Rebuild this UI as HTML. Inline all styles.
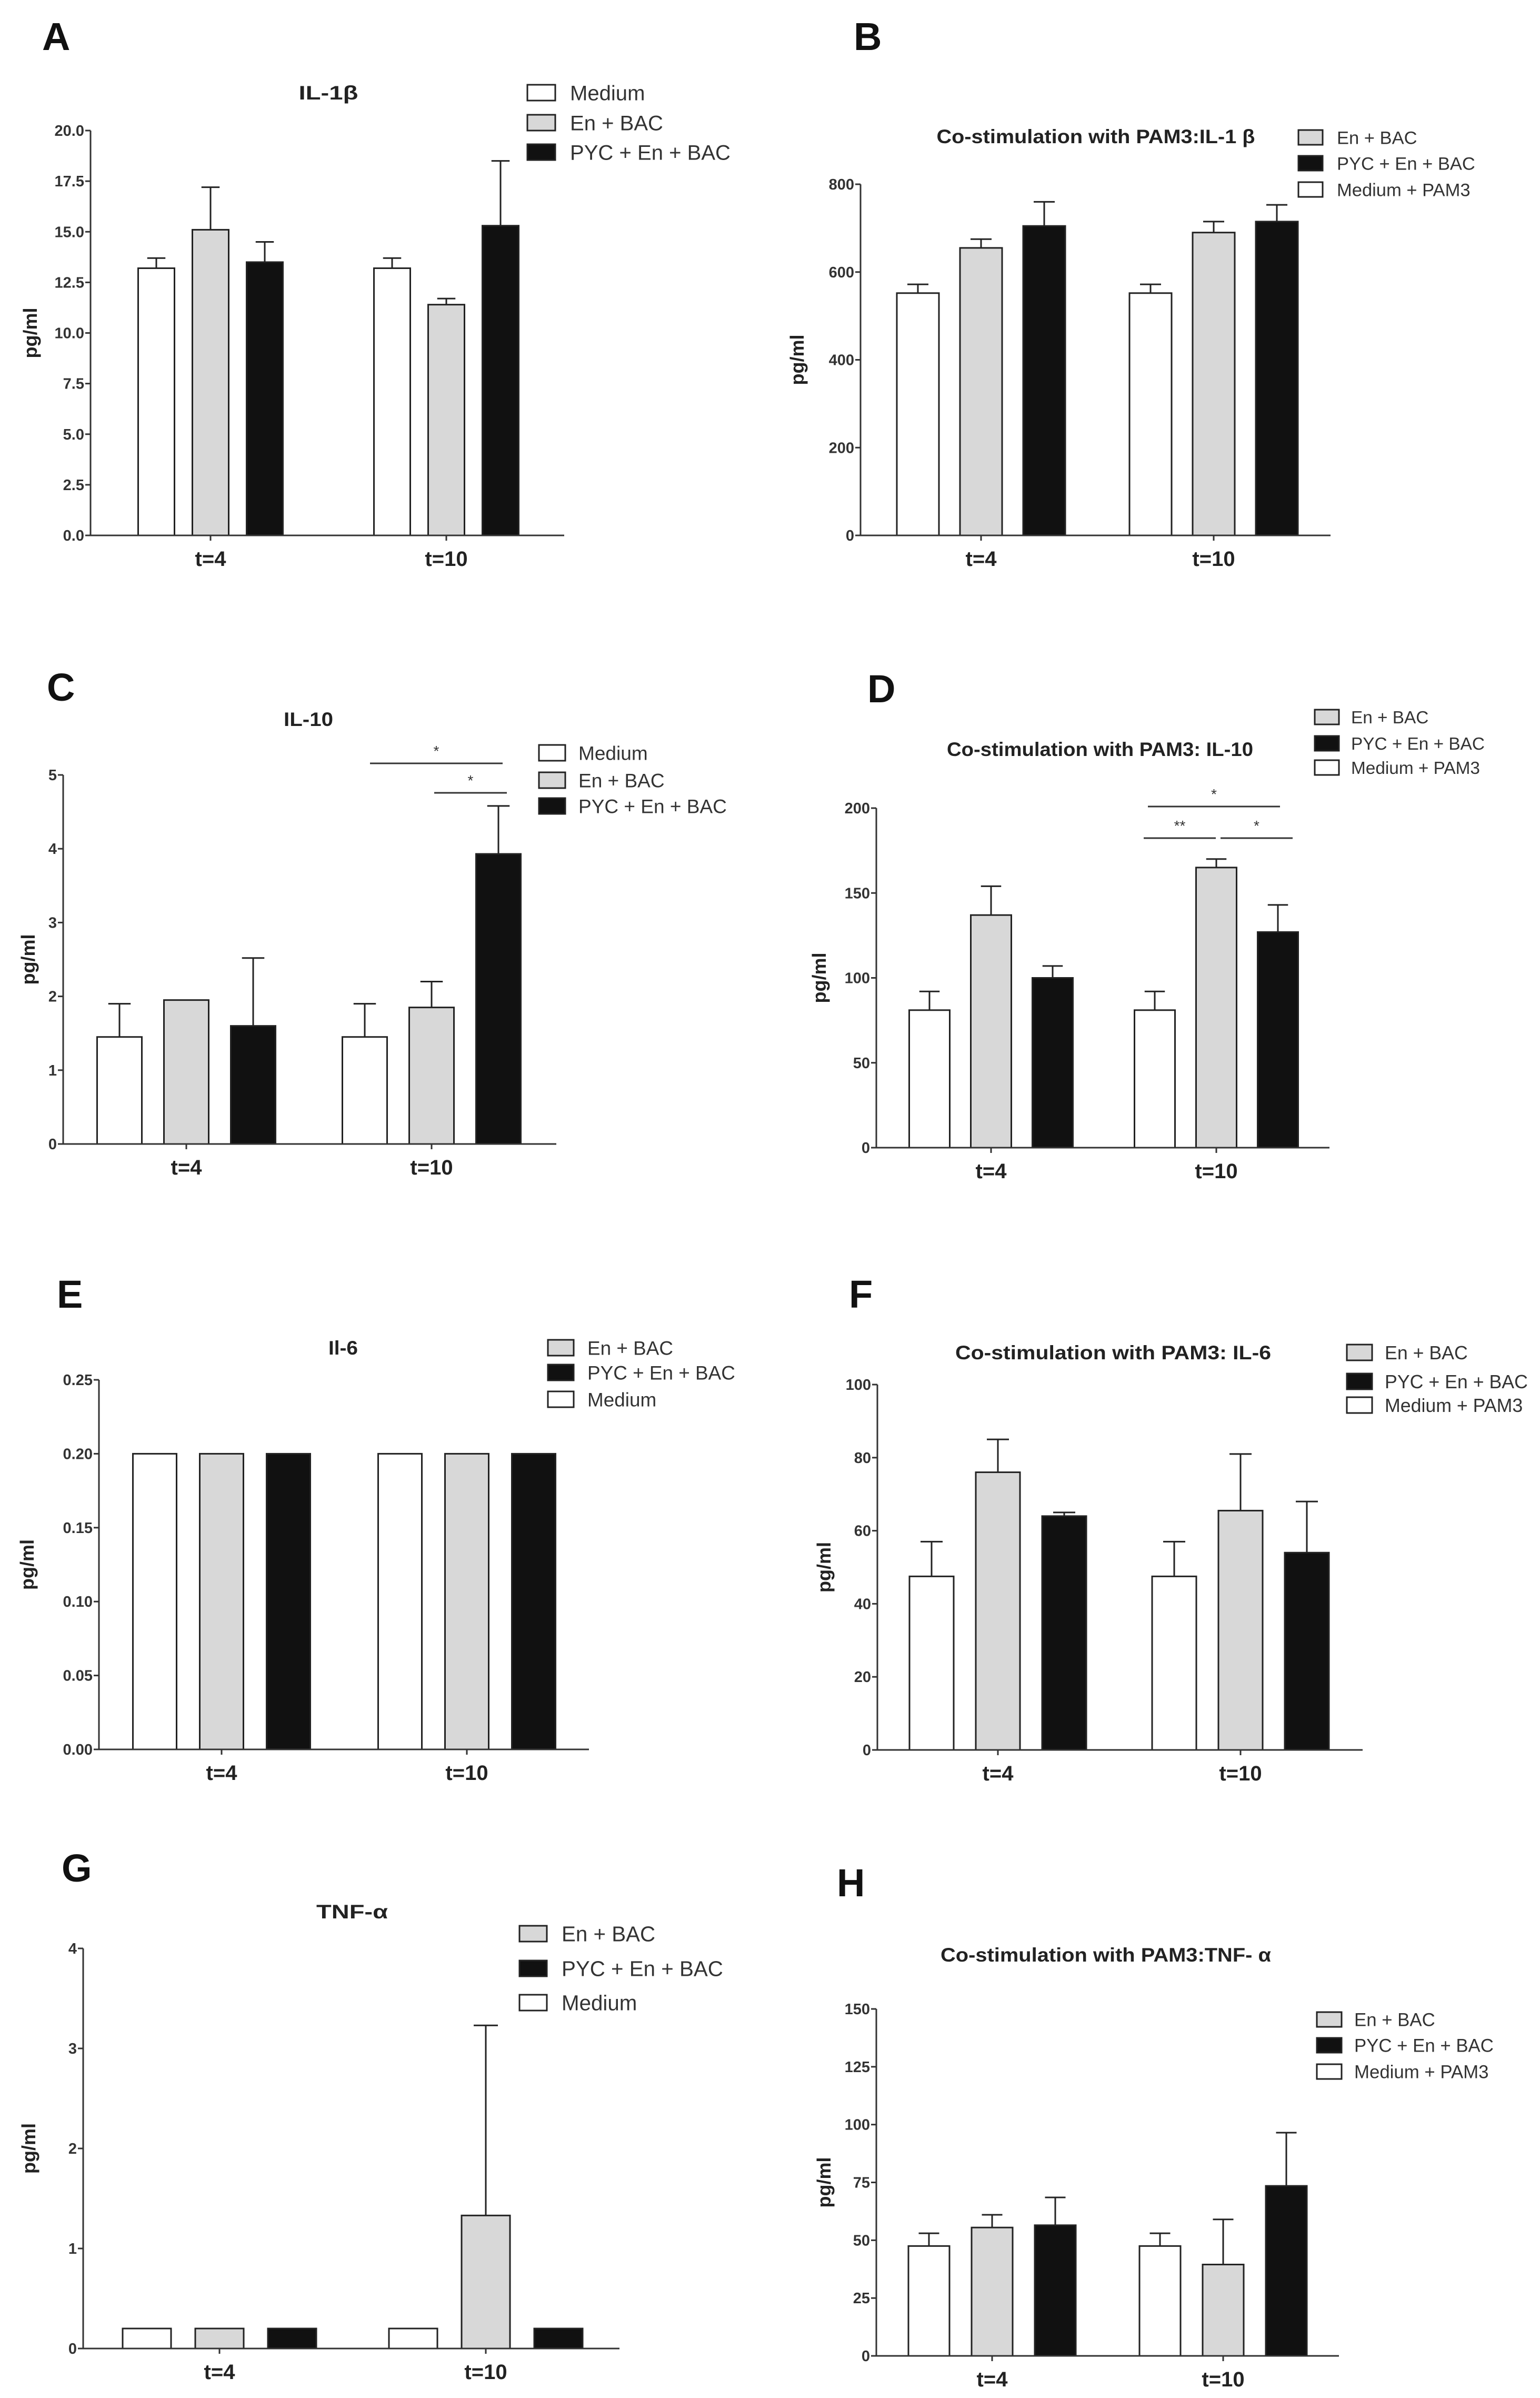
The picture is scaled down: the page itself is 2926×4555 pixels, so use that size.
<!DOCTYPE html>
<html><head><meta charset="utf-8">
<style>
html,body{margin:0;padding:0;background:#fff;}
svg{display:block;font-family:"Liberation Sans",Arial,sans-serif;}
</style></head>
<body>
<svg id="fig" width="2926" height="4555" viewBox="0 0 2926 4555" xmlns="http://www.w3.org/2000/svg"></svg>
<script>
// ---- Data (means and SEM) per panel, series order: [t=4, t=10] ----
const categories = ["t=4", "t=10"];
const A_medium = [13.2, 13.2];  const A_medium_err = [0.5, 0.5];
const A_enbac  = [15.1, 11.4];  const A_enbac_err  = [2.1, 0.3];
const A_pyc    = [13.5, 15.3];  const A_pyc_err    = [1.0, 3.2];
const B_medium = [552, 552];    const B_medium_err = [20, 20];
const B_enbac  = [655, 690];    const B_enbac_err  = [20, 25];
const B_pyc    = [705, 715];    const B_pyc_err    = [55, 38];
const C_medium = [1.45, 1.45];  const C_medium_err = [0.45, 0.45];
const C_enbac  = [1.95, 1.85];  const C_enbac_err  = [0, 0.35];
const C_pyc    = [1.6, 3.93];   const C_pyc_err    = [0.92, 0.65];
const D_medium = [81, 81];      const D_medium_err = [11, 11];
const D_enbac  = [137, 165];    const D_enbac_err  = [17, 5];
const D_pyc    = [100, 127];    const D_pyc_err    = [7, 16];
const E_medium = [0.2, 0.2];    const E_medium_err = [0, 0];
const E_enbac  = [0.2, 0.2];    const E_enbac_err  = [0, 0];
const E_pyc    = [0.2, 0.2];    const E_pyc_err    = [0, 0];
const F_medium = [47.5, 47.5];  const F_medium_err = [9.5, 9.5];
const F_enbac  = [76, 65.5];    const F_enbac_err  = [9, 15.5];
const F_pyc    = [64, 54];      const F_pyc_err    = [1, 14];
const G_medium = [0.2, 0.2];    const G_medium_err = [0, 0];
const G_enbac  = [0.2, 1.33];   const G_enbac_err  = [0, 1.9];
const G_pyc    = [0.2, 0.2];    const G_pyc_err    = [0, 0];
const H_medium = [47.5, 47.5];  const H_medium_err = [5.5, 5.5];
const H_enbac  = [55.5, 39.5];  const H_enbac_err  = [5.5, 19.5];
const H_pyc    = [56.5, 73.5];  const H_pyc_err    = [12, 23];
// tick settings: max, step, decimals
const A_ticks = [20, 2.5, 1];
const B_ticks = [800, 200, 0];
const C_ticks = [5, 1, 0];
const D_ticks = [200, 50, 0];
const E_ticks = [0.25, 0.05, 2];
const F_ticks = [100, 20, 0];
const G_ticks = [4, 1, 0];
const H_ticks = [150, 25, 0];

const NS = "http://www.w3.org/2000/svg";
const svg = document.getElementById("fig");
const FILL = {medium:"#ffffff", enbac:"#d8d8d8", pyc:"#111111"};
function mk(tag, attrs, parent, txt){
  const e = document.createElementNS(NS, tag);
  for (const k in attrs) e.setAttribute(k, attrs[k]);
  if (txt !== undefined) e.textContent = txt;
  (parent || svg).appendChild(e);
  return e;
}

// layout (positions only)
const panels = [
 {id:"a", letter:"A", lx:80, ly:95, title:"IL-1β", tx:624, ty:176, tw:113, ax:172, axEnd:1072, y0:1017, yTop:248, gc:[400,848], step:103, bw:69, ticks:A_ticks,
  data:{medium:[A_medium,A_medium_err], enbac:[A_enbac,A_enbac_err], pyc:[A_pyc,A_pyc_err]},
  leg:{bx:1002, bw:53, bh:30, rows:[176,233,289], tx:1083, tw:305, order:["medium","enbac","pyc"], med:"Medium"}, ylx:58},
 {id:"b", letter:"B", lx:1622, ly:95, title:"Co-stimulation with PAM3:IL-1 β", tx:2082, ty:259, tw:605, ax:1635, axEnd:2528, y0:1017, yTop:350, gc:[1864,2306], step:120, bw:80, ticks:B_ticks,
  data:{medium:[B_medium,B_medium_err], enbac:[B_enbac,B_enbac_err], pyc:[B_pyc,B_pyc_err]},
  leg:{bx:2467, bw:46, bh:28, rows:[261,310,360], tx:2540, tw:263, order:["enbac","pyc","medium"], med:"Medium + PAM3"}, ylx:1515},
 {id:"c", letter:"C", lx:89, ly:1331, title:"IL-10", tx:586, ty:1366, tw:94, ax:120, axEnd:1057, y0:2173, yTop:1472, gc:[354,820], step:127, bw:85, ticks:C_ticks,
  data:{medium:[C_medium,C_medium_err], enbac:[C_enbac,C_enbac_err], pyc:[C_pyc,C_pyc_err]},
  leg:{bx:1024, bw:50, bh:30, rows:[1430,1482,1531], tx:1099, tw:282, order:["medium","enbac","pyc"], med:"Medium"}, ylx:54,
  sig:[[703,955,1450,"*"],[825,963,1506,"*"]]},
 {id:"d", letter:"D", lx:1648, ly:1334, title:"Co-stimulation with PAM3: IL-10", tx:2090, ty:1423, tw:582, ax:1665, axEnd:2526, y0:2180, yTop:1535, gc:[1883,2311], step:117, bw:77, ticks:D_ticks,
  data:{medium:[D_medium,D_medium_err], enbac:[D_enbac,D_enbac_err], pyc:[D_pyc,D_pyc_err]},
  leg:{bx:2498, bw:46, bh:28, rows:[1362,1412,1458], tx:2567, tw:254, order:["enbac","pyc","medium"], med:"Medium + PAM3"}, ylx:1557,
  sig:[[2181,2432,1532,"*"],[2173,2310,1592,"**"],[2319,2456,1592,"*"]]},
 {id:"e", letter:"E", lx:108, ly:2484, title:"Il-6", tx:652, ty:2560, tw:56, ax:188, axEnd:1119, y0:3323, yTop:2621, gc:[421,887], step:127, bw:83, ticks:E_ticks,
  data:{medium:[E_medium,E_medium_err], enbac:[E_enbac,E_enbac_err], pyc:[E_pyc,E_pyc_err]},
  leg:{bx:1041, bw:49, bh:30, rows:[2560,2607,2658], tx:1116, tw:281, order:["enbac","pyc","medium"], med:"Medium"}, ylx:52},
 {id:"f", letter:"F", lx:1613, ly:2484, title:"Co-stimulation with PAM3: IL-6", tx:2115, ty:2569, tw:600, ax:1667, axEnd:2589, y0:3324, yTop:2630, gc:[1896,2357], step:126, bw:84, ticks:F_ticks,
  data:{medium:[F_medium,F_medium_err], enbac:[F_enbac,F_enbac_err], pyc:[F_pyc,F_pyc_err]},
  leg:{bx:2559, bw:48, bh:30, rows:[2569,2624,2669], tx:2631, tw:272, order:["enbac","pyc","medium"], med:"Medium + PAM3"}, ylx:1566},
 {id:"g", letter:"G", lx:117, ly:3574, title:"TNF-α", tx:669, ty:3631, tw:136, ax:158, axEnd:1177, y0:4461, yTop:3701, gc:[417,923], step:138, bw:92, ticks:G_ticks,
  data:{medium:[G_medium,G_medium_err], enbac:[G_enbac,G_enbac_err], pyc:[G_pyc,G_pyc_err]},
  leg:{bx:987, bw:52, bh:30, rows:[3673,3739,3804], tx:1067, tw:307, order:["enbac","pyc","medium"], med:"Medium"}, ylx:55},
 {id:"h", letter:"H", lx:1590, ly:3602, title:"Co-stimulation with PAM3:TNF- α", tx:2101, ty:3713, tw:628, ax:1665, axEnd:2544, y0:4475, yTop:3816, gc:[1885,2324], step:120, bw:78, ticks:H_ticks,
  data:{medium:[H_medium,H_medium_err], enbac:[H_enbac,H_enbac_err], pyc:[H_pyc,H_pyc_err]},
  leg:{bx:2502, bw:47, bh:28, rows:[3836,3885,3935], tx:2573, tw:265, order:["enbac","pyc","medium"], med:"Medium + PAM3"}, ylx:1566}
];
const seriesOrder = ["medium","enbac","pyc"];

panels.forEach(p => {
  const g = mk("g", {});
  
  
  const maxV = p.ticks[0], stepV = p.ticks[1], dec = p.ticks[2];
  const yS = v => p.y0 - (v / maxV) * (p.y0 - p.yTop);
  const xS = (gi, si) => p.gc[gi] + (si - 1) * p.step;

  const L = mk("text", {x:p.lx, y:p.ly, "font-size":74, "font-weight":"bold", fill:"#111"}, g, p.letter);
  
  

  const T = mk("text", {x:p.tx, y:p.ty + 13, "font-size":37, "font-weight":"bold", fill:"#222", "text-anchor":"middle", textLength:p.tw, lengthAdjust:"spacingAndGlyphs"}, g, p.title);
  
  

  // bars
  seriesOrder.forEach((s, si) => {
    const vals = p.data[s][0], errs = p.data[s][1];
    vals.forEach((v, gi) => {
      const cx = xS(gi, si), top = yS(v);
      const r = mk("rect", {x:cx - p.bw/2, y:top, width:p.bw, height:p.y0 - top, fill:FILL[s], stroke:"#222", "stroke-width":3}, g);
      
      
      const e = errs[gi];
      if (e > 0) {
        const et = yS(v + e);
        const eg = mk("g", {stroke:"#222", "stroke-width":3}, g);
        
        
        mk("line", {x1:cx, y1:top, x2:cx, y2:et}, eg);
        mk("line", {x1:cx - p.bw*0.25, y1:et, x2:cx + p.bw*0.25, y2:et}, eg);
      }
    });
  });

  // axes
  const ya = mk("line", {x1:p.ax, y1:p.yTop, x2:p.ax, y2:p.y0, stroke:"#333", "stroke-width":3}, g);
  
  
  const xa = mk("line", {x1:p.ax, y1:p.y0, x2:p.axEnd, y2:p.y0, stroke:"#333", "stroke-width":3}, g);
  
  
  const nT = Math.round(maxV / stepV);
  for (let i = 0; i <= nT; i++) {
    const v = i * stepV, y = yS(v);
    mk("line", {x1:p.ax - 10, y1:y, x2:p.ax, y2:y, stroke:"#333", "stroke-width":3}, g);
    const t = mk("text", {x:p.ax - 12, y:y + 10, "font-size":29, "font-weight":"bold", fill:"#333", "text-anchor":"end"}, g, v.toFixed(dec));
    
    
  }
  categories.forEach((c, gi) => {
    const cx = p.gc[gi];
    mk("line", {x1:cx, y1:p.y0, x2:cx, y2:p.y0 + 10, stroke:"#333", "stroke-width":3}, g);
    const t = mk("text", {x:cx, y:p.y0 + 58, "font-size":40, "font-weight":"bold", fill:"#222", "text-anchor":"middle"}, g, c);
    
    
  });
  const ymid = (p.y0 + p.yTop) / 2;
  const yl = mk("text", {x:p.ylx, y:ymid, "font-size":36, "font-weight":"bold", fill:"#222", "text-anchor":"middle", transform:"rotate(-90 " + (p.ylx) + " " + ymid + ")", dy:12}, g, "pg/ml");
  
  

  // legend
  const lg = p.leg;
  const fs = lg.tw / 7.615;
  lg.order.forEach((s, i) => {
    const cy = lg.rows[i];
    const eg = mk("g", {}, g);
    
    
    mk("rect", {x:lg.bx, y:cy - lg.bh/2, width:lg.bw, height:lg.bh, fill:FILL[s], stroke:"#222", "stroke-width":3}, eg);
    const label = s === "medium" ? lg.med : (s === "enbac" ? "En + BAC" : "PYC + En + BAC");
    mk("text", {x:lg.tx, y:cy + fs*0.36, "font-size":fs, fill:"#333"}, eg, label);
  });

  // significance
  if (p.sig) p.sig.forEach(sg => {
    const sgG = mk("g", {}, g);
    
    
    mk("line", {x1:sg[0], y1:sg[2], x2:sg[1], y2:sg[2], stroke:"#333", "stroke-width":3}, sgG);
    mk("text", {x:(sg[0] + sg[1]) / 2, y:sg[2] - 14, "font-size":28, "text-anchor":"middle", fill:"#333"}, sgG, sg[3]);
  });
});
</script>
</body></html>
